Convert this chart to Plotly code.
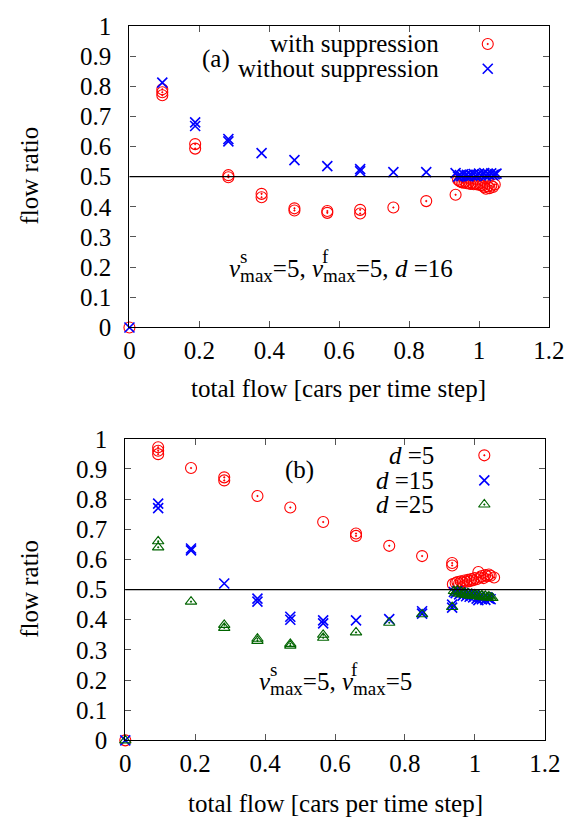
import plotly.graph_objects as go

# ---------------- data: panel (a) ----------------
a_with_x = [0.0, 0.094, 0.094, 0.094, 0.188, 0.188, 0.283, 0.283, 0.378, 0.378,
            0.472, 0.472, 0.566, 0.566, 0.660, 0.660, 0.755, 0.849, 0.933, 0.940,
            0.945, 0.950, 0.955, 0.960, 0.965, 0.970, 0.975, 0.980, 0.985, 0.990,
            0.995, 1.000, 1.005, 1.010, 1.015, 1.020, 1.025, 1.030, 1.035, 1.040, 1.045]
a_with_y = [0.0, 0.770, 0.780, 0.790, 0.593, 0.608, 0.498, 0.505, 0.432, 0.443,
            0.388, 0.395, 0.380, 0.386, 0.378, 0.390, 0.398, 0.419, 0.440, 0.490,
            0.485, 0.482, 0.480, 0.483, 0.478, 0.480, 0.476, 0.479, 0.475, 0.477,
            0.474, 0.476, 0.472, 0.470, 0.465, 0.460, 0.468, 0.462, 0.470, 0.466, 0.474]

a_without_x = [0.0, 0.094, 0.188, 0.188, 0.283, 0.283, 0.378, 0.472, 0.566, 0.660,
               0.660, 0.755, 0.849, 0.933, 0.940, 0.945, 0.950, 0.955, 0.960, 0.965,
               0.970, 0.975, 0.980, 0.985, 0.990, 0.995, 1.000, 1.005, 1.010, 1.015,
               1.020, 1.025, 1.030, 1.035, 1.040, 1.045, 1.050]
a_without_y = [0.0, 0.812, 0.668, 0.680, 0.617, 0.625, 0.578, 0.555, 0.535, 0.518,
               0.525, 0.515, 0.515, 0.512, 0.500, 0.505, 0.502, 0.508, 0.503, 0.506,
               0.501, 0.507, 0.504, 0.509, 0.502, 0.506, 0.510, 0.504, 0.508, 0.512,
               0.503, 0.509, 0.506, 0.511, 0.505, 0.508, 0.510]

# ---------------- data: panel (b) ----------------
b_d5_x = [0.0, 0.094, 0.094, 0.094, 0.188, 0.283, 0.283, 0.378, 0.472, 0.566,
          0.660, 0.660, 0.755, 0.849, 0.935, 0.935, 0.937, 0.945, 0.950, 0.955,
          0.960, 0.965, 0.970, 0.975, 0.980, 0.985, 0.990, 0.995, 1.000, 1.005,
          1.010, 1.015, 1.020, 1.025, 1.030, 1.035, 1.040, 1.045, 1.055]
b_d5_y = [0.0, 0.949, 0.960, 0.972, 0.903, 0.862, 0.872, 0.810, 0.772, 0.724,
          0.678, 0.686, 0.645, 0.611, 0.580, 0.588, 0.518, 0.522, 0.525, 0.520,
          0.527, 0.524, 0.530, 0.526, 0.532, 0.528, 0.535, 0.531, 0.538, 0.534,
          0.558, 0.540, 0.545, 0.538, 0.548, 0.544, 0.550, 0.546, 0.540]

b_d15_x = [0.0, 0.094, 0.094, 0.188, 0.188, 0.283, 0.378, 0.378, 0.472, 0.472,
           0.566, 0.566, 0.660, 0.755, 0.849, 0.849, 0.935, 0.935, 0.940, 0.945,
           0.950, 0.955, 0.960, 0.965, 0.970, 0.975, 0.980, 0.985, 0.990, 0.995,
           1.000, 1.005, 1.010, 1.015, 1.020, 1.025, 1.030, 1.035, 1.040, 1.045]
b_d15_y = [0.0, 0.770, 0.785, 0.630, 0.636, 0.520, 0.460, 0.470, 0.400, 0.410,
           0.388, 0.398, 0.398, 0.402, 0.420, 0.428, 0.440, 0.450, 0.492, 0.488,
           0.495, 0.484, 0.490, 0.480, 0.487, 0.478, 0.485, 0.476, 0.482, 0.474,
           0.480, 0.470, 0.465, 0.476, 0.468, 0.472, 0.466, 0.474, 0.470, 0.468]

b_d25_x = [0.0, 0.094, 0.094, 0.188, 0.283, 0.283, 0.378, 0.378, 0.472, 0.472,
           0.566, 0.566, 0.660, 0.755, 0.849, 0.935, 0.940, 0.945, 0.950, 0.955,
           0.960, 0.965, 0.970, 0.975, 0.980, 0.985, 0.990, 0.995, 1.000, 1.005,
           1.010, 1.015, 1.020, 1.025, 1.030, 1.035, 1.040, 1.045, 1.050]
b_d25_y = [0.0, 0.640, 0.660, 0.460, 0.373, 0.383, 0.330, 0.337, 0.314, 0.320,
           0.340, 0.350, 0.358, 0.390, 0.418, 0.442, 0.495, 0.490, 0.497, 0.486,
           0.493, 0.484, 0.490, 0.482, 0.488, 0.480, 0.486, 0.479, 0.484, 0.478,
           0.482, 0.476, 0.481, 0.475, 0.479, 0.474, 0.477, 0.473, 0.472]

x_ticks = [0, 0.2, 0.4, 0.6, 0.8, 1, 1.2]
x_tick_labels = ["0", "0.2", "0.4", "0.6", "0.8", "1", "1.2"]
y_ticks = [0, 0.1, 0.2, 0.3, 0.4, 0.5, 0.6, 0.7, 0.8, 0.9, 1]
y_tick_labels = ["0", "0.1", "0.2", "0.3", "0.4", "0.5", "0.6", "0.7", "0.8", "0.9", "1"]

legend_a = ["with suppression", "without suppression"]
legend_b = ["<i>d</i> =5", "<i>d</i> =15", "<i>d</i> =25"]

RED = "#ff0000"
BLUE = "#0000ff"
GREEN = "#006400"
FONT = "Liberation Serif, Times New Roman, Times, serif"
FS = 25

W, H = 581, 834

fig = go.Figure()

circ = dict(symbol="circle-open-dot", size=11, color=RED, line=dict(width=1.1, color=RED))
xmk = dict(symbol="x-thin-open", size=10, color=BLUE, line=dict(width=1.6, color=BLUE))
tri = dict(symbol="triangle-up-open-dot", size=10, color=GREEN, line=dict(width=1.1, color=GREEN))

def pts(x, y, mk, xa, ya):
    fig.add_trace(go.Scatter(x=x, y=y, mode="markers", marker=mk, xaxis=xa, yaxis=ya,
                             showlegend=False, cliponaxis=False))

# panel (a)
pts(a_with_x, a_with_y, circ, "x", "y")
pts(a_without_x, a_without_y, xmk, "x", "y")
# panel (b)
pts(b_d5_x, b_d5_y, circ, "x2", "y2")
pts(b_d15_x, b_d15_y, xmk, "x2", "y2")
pts(b_d25_x, b_d25_y, tri, "x2", "y2")

# legend key samples (gnuplot style: text then symbol)
pts([1.025], [0.94], circ, "x", "y")
pts([1.025], [0.858], xmk, "x", "y")
pts([1.027], [0.945], circ, "x2", "y2")
pts([1.027], [0.862], xmk, "x2", "y2")
pts([1.027], [0.782], tri, "x2", "y2")

# domains in paper coords
ax_a = (128.3 / W, 564.3 / W)
ay_a = (1 - 325 / H, 1 - 13.3 / H)
ax_b = (124 / W, 560 / W)
ay_b = (1 - 751.7 / H, 1 - 440 / H)

axis_common = dict(showline=True, linecolor="black", linewidth=1.3, mirror="ticks",
                   ticks="inside", ticklen=6, tickwidth=1, tickcolor="#555555",
                   showgrid=False, zeroline=False,
                   tickfont=dict(family=FONT, size=FS, color="black"))

fig.update_layout(
    width=W, height=H,
    margin=dict(l=0, r=0, t=0, b=0),
    paper_bgcolor="white", plot_bgcolor="white",
    font=dict(family=FONT, size=FS, color="black"),
    xaxis=dict(domain=ax_a, range=[0, 1.2], tickvals=x_ticks, ticktext=x_tick_labels,
               anchor="y", **axis_common),
    yaxis=dict(domain=ay_a, range=[0, 1], tickvals=y_ticks, ticktext=y_tick_labels,
               anchor="x", ticklabelstandoff=12, **axis_common),
    xaxis2=dict(domain=ax_b, range=[0, 1.2], tickvals=x_ticks, ticktext=x_tick_labels,
                anchor="y2", **axis_common),
    yaxis2=dict(domain=ay_b, range=[0, 1], tickvals=y_ticks, ticktext=y_tick_labels,
                anchor="x2", ticklabelstandoff=12, **axis_common),
)

# y = 0.5 reference lines
for xr, yr in (("x", "y"), ("x2", "y2")):
    fig.add_shape(type="line", xref=f"{xr} domain", yref=yr, x0=0, x1=1, y0=0.5, y1=0.5,
                  line=dict(color="black", width=1.3))

ann = []
def txt(text, x, y, xref, yref, xanchor="center", yanchor="middle", size=FS, angle=0):
    ann.append(dict(text=text, x=x, y=y, xref=xref, yref=yref, xanchor=xanchor,
                    yanchor=yanchor, showarrow=False, textangle=angle,
                    font=dict(family=FONT, size=size, color="black")))

# axis titles
txt("flow ratio", 25 / W, 1 - 168 / H, "paper", "paper", angle=-90)
txt("flow ratio", 25 / W, 1 - 595 / H, "paper", "paper", angle=-90)
txt("total flow [cars per time step]", 346 / W, 1 - 388 / H, "paper", "paper")
txt("total flow [cars per time step]", 342 / W, 1 - 817 / H, "paper", "paper")

# legend texts
txt(legend_a[0], 0.891, 0.94, "x", "y", xanchor="right")
txt(legend_a[1], 0.891, 0.858, "x", "y", xanchor="right")
txt(legend_b[0], 0.888, 0.945, "x2", "y2", xanchor="right")
txt(legend_b[1], 0.888, 0.862, "x2", "y2", xanchor="right")
txt(legend_b[2], 0.888, 0.782, "x2", "y2", xanchor="right")

# panel labels
txt("(a)", 0.247, 0.89, "x", "y")
txt("(b)", 0.498, 0.897, "x2", "y2")

# parameter annotations (stacked super/subscript)
sub = "<span style='font-size:19px'>max</span>"
txt(f"<i>v</i><sub>{sub}</sub>=5, <i>v</i><sub>{sub}</sub>=5, <i>d</i> =16",
    0.279, 0.19, "x", "y", xanchor="left")
txt("s", 0.327, 0.235, "x", "y", size=19)
txt("f", 0.561, 0.235, "x", "y", size=19)

txt(f"<i>v</i><sub>{sub}</sub>=5, <i>v</i><sub>{sub}</sub>=5",
    0.378, 0.19, "x2", "y2", xanchor="left")
txt("s", 0.423, 0.235, "x2", "y2", size=19)
txt("f", 0.656, 0.235, "x2", "y2", size=19)

fig.update_layout(annotations=ann)

fig.write_html(
    "out.html",
    config={"displayModeBar": False, "responsive": False},
    post_script=("document.documentElement.style.margin='0px';"
                 "document.body.style.margin='0px';"
                 "document.documentElement.style.overflow='hidden';"
                 "document.body.style.overflow='hidden';"),
)
